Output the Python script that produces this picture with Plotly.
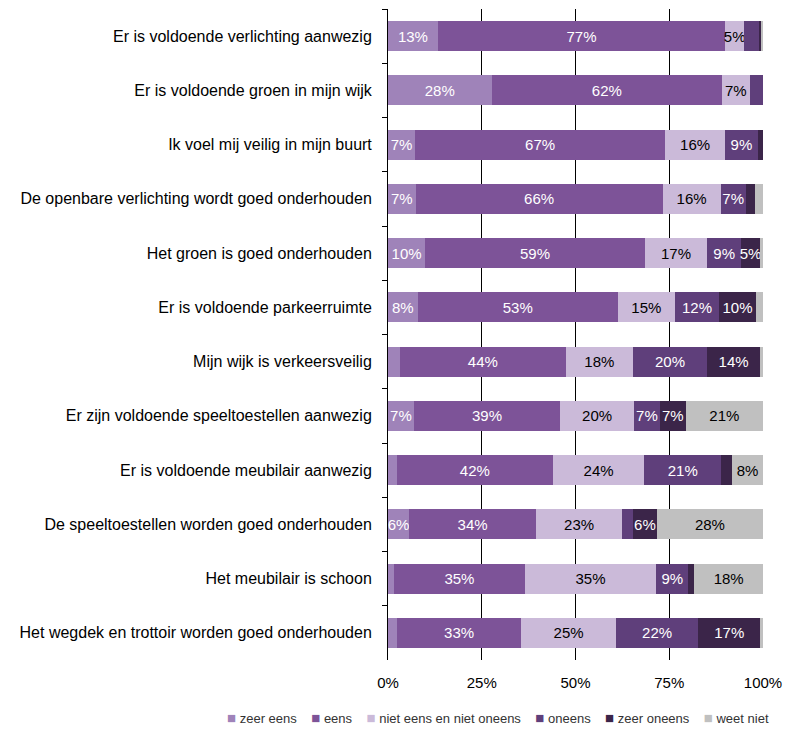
import plotly.graph_objects as go

categories = [
    "Er is voldoende verlichting aanwezig",
    "Er is voldoende groen in mijn wijk",
    "Ik voel mij veilig in mijn buurt",
    "De openbare verlichting wordt goed onderhouden",
    "Het groen is goed onderhouden",
    "Er is voldoende parkeerruimte",
    "Mijn wijk is verkeersveilig",
    "Er zijn voldoende speeltoestellen aanwezig",
    "Er is voldoende meubilair aanwezig",
    "De speeltoestellen worden goed onderhouden",
    "Het meubilair is schoon",
    "Het wegdek en trottoir worden goed onderhouden",
]

zeer_eens   = [13.3, 27.6, 7.2, 7.4, 9.9, 7.9, 3.2, 6.9, 2.3, 5.6, 1.6, 2.4]
eens        = [76.6, 61.5, 66.7, 65.8, 58.6, 53.4, 44.2, 39.0, 41.7, 33.9, 34.9, 33.1]
niet_niet   = [5.1, 7.3, 16.0, 15.5, 16.6, 15.2, 17.9, 19.7, 24.3, 22.9, 35.0, 25.3]
oneens      = [4.1, 3.6, 8.7, 6.7, 9.1, 11.8, 19.8, 6.9, 20.6, 2.9, 8.6, 21.9]
zeer_oneens = [0.4, 0.0, 1.4, 2.4, 5.0, 9.8, 14.1, 6.9, 2.9, 6.4, 1.6, 16.6]
weet_niet   = [0.5, 0.0, 0.0, 2.2, 0.8, 1.9, 0.8, 20.6, 8.2, 28.3, 18.3, 0.7]

x_ticks = [0, 25, 50, 75, 100]
x_tick_labels = ["0%", "25%", "50%", "75%", "100%"]

series = [
    ("zeer eens", zeer_eens, "#9f83b9", "white"),
    ("eens", eens, "#7d5398", "white"),
    ("niet eens en niet oneens", niet_niet, "#cbbad9", "black"),
    ("oneens", oneens, "#5f3f7b", "white"),
    ("zeer oneens", zeer_oneens, "#3b2549", "white"),
    ("weet niet", weet_niet, "#c0c0c0", "black"),
]

FONT = "Liberation Sans, Arial, sans-serif"
NB = "\u00a0"

fig = go.Figure()
for name, vals, color, tcol in series:
    fig.add_trace(go.Bar(
        name=name, y=categories, x=vals, orientation="h",
        marker=dict(color=color, line=dict(width=0)),
        text=[f"{round(v)}%" if v >= 4.5 else "" for v in vals],
        textposition="inside", insidetextanchor="middle", textangle=0,
        textfont=dict(color=tcol, size=15, family=FONT),
        showlegend=False,
    ))

# Legend row (Excel style) built from the series names and colours
legend_text = (NB * 4).join(
    f'<span style="color:{color};font-size:15px">■</span>{NB}{name}'
    for name, _, color, _ in series
)
fig.add_annotation(
    text=legend_text, xref="paper", yref="paper", x=0.293, y=-0.0876,
    xanchor="center", yanchor="middle", showarrow=False,
    font=dict(size=13, color="#333", family=FONT),
)

fig.update_layout(
    barmode="stack", bargap=0.45,
    width=805, height=737,
    margin=dict(l=388, r=42, t=9, b=77, autoexpand=False),
    paper_bgcolor="white", plot_bgcolor="white",
    font=dict(family=FONT, size=14, color="black"),
    uniformtext=dict(minsize=15, mode="show"),
    xaxis=dict(range=[0, 100], tickvals=x_ticks, ticktext=x_tick_labels,
               showgrid=True, gridcolor="black", gridwidth=1, zeroline=False,
               showline=False, ticks="", tickfont=dict(size=15),
               ticklabelstandoff=12),
    yaxis=dict(autorange="reversed", showline=True, linecolor="black", linewidth=1,
               ticks="outside", ticklen=5, tickcolor="black", tickson="boundaries",
               showgrid=False, ticklabelstandoff=12, tickfont=dict(size=16)),
)

fig.write_html("out.html")
